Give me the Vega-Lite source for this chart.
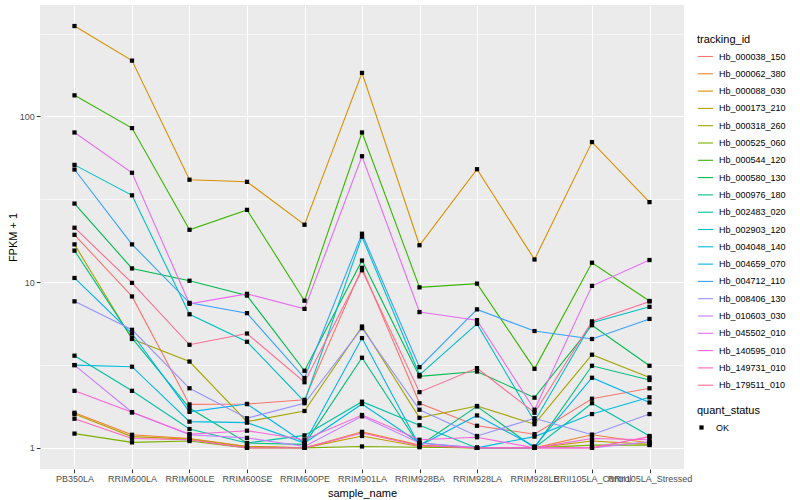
{
"$schema": "https://vega.github.io/schema/vega-lite/v6.json",
"width": 644, "height": 464,
"autosize": {"type": "none"},
"padding": {"left": 40, "top": 5, "right": 116, "bottom": 31},
"background": "#FFFFFF",
"config": {
 "font": "Liberation Sans",
 "view": {"fill": "#EBEBEB", "stroke": null},
 "axis": {"domain": false, "gridColor": "#FFFFFF", "tickColor": "#333333", "labelColor": "#4D4D4D", "labelFontSize": 9, "titleFontSize": 11, "titleFontWeight": "normal", "titleColor": "#000000", "tickSize": 3.7, "tickWidth": 1},
 "legend": {"titleFontSize": 11, "titleFontWeight": "normal", "titleColor": "#000000", "labelFontSize": 9, "labelColor": "#000000", "padding": 0}
},
"data": {"values": [
{"tracking_id":"Hb_000038_150","sample_name":"PB350LA","fpkm":19.3,"quant_status":"OK"},
{"tracking_id":"Hb_000038_150","sample_name":"RRIM600LA","fpkm":8.2,"quant_status":"OK"},
{"tracking_id":"Hb_000038_150","sample_name":"RRIM600LE","fpkm":1.83,"quant_status":"OK"},
{"tracking_id":"Hb_000038_150","sample_name":"RRIM600SE","fpkm":1.84,"quant_status":"OK"},
{"tracking_id":"Hb_000038_150","sample_name":"RRIM600PE","fpkm":1.95,"quant_status":"OK"},
{"tracking_id":"Hb_000038_150","sample_name":"RRIM901LA","fpkm":12.2,"quant_status":"OK"},
{"tracking_id":"Hb_000038_150","sample_name":"RRIM928BA","fpkm":1.86,"quant_status":"OK"},
{"tracking_id":"Hb_000038_150","sample_name":"RRIM928LA","fpkm":1.36,"quant_status":"OK"},
{"tracking_id":"Hb_000038_150","sample_name":"RRIM928LE","fpkm":1.21,"quant_status":"OK"},
{"tracking_id":"Hb_000038_150","sample_name":"RRII105LA_Control","fpkm":1.98,"quant_status":"OK"},
{"tracking_id":"Hb_000038_150","sample_name":"RRII105LA_Stressed","fpkm":2.29,"quant_status":"OK"},
{"tracking_id":"Hb_000062_380","sample_name":"PB350LA","fpkm":1.63,"quant_status":"OK"},
{"tracking_id":"Hb_000062_380","sample_name":"RRIM600LA","fpkm":1.2,"quant_status":"OK"},
{"tracking_id":"Hb_000062_380","sample_name":"RRIM600LE","fpkm":1.14,"quant_status":"OK"},
{"tracking_id":"Hb_000062_380","sample_name":"RRIM600SE","fpkm":1.02,"quant_status":"OK"},
{"tracking_id":"Hb_000062_380","sample_name":"RRIM600PE","fpkm":1.0,"quant_status":"OK"},
{"tracking_id":"Hb_000062_380","sample_name":"RRIM901LA","fpkm":1.25,"quant_status":"OK"},
{"tracking_id":"Hb_000062_380","sample_name":"RRIM928BA","fpkm":1.04,"quant_status":"OK"},
{"tracking_id":"Hb_000062_380","sample_name":"RRIM928LA","fpkm":1.0,"quant_status":"OK"},
{"tracking_id":"Hb_000062_380","sample_name":"RRIM928LE","fpkm":1.0,"quant_status":"OK"},
{"tracking_id":"Hb_000062_380","sample_name":"RRII105LA_Control","fpkm":1.2,"quant_status":"OK"},
{"tracking_id":"Hb_000062_380","sample_name":"RRII105LA_Stressed","fpkm":1.07,"quant_status":"OK"},
{"tracking_id":"Hb_000088_030","sample_name":"PB350LA","fpkm":351,"quant_status":"OK"},
{"tracking_id":"Hb_000088_030","sample_name":"RRIM600LA","fpkm":217,"quant_status":"OK"},
{"tracking_id":"Hb_000088_030","sample_name":"RRIM600LE","fpkm":41.5,"quant_status":"OK"},
{"tracking_id":"Hb_000088_030","sample_name":"RRIM600SE","fpkm":40.3,"quant_status":"OK"},
{"tracking_id":"Hb_000088_030","sample_name":"RRIM600PE","fpkm":22.2,"quant_status":"OK"},
{"tracking_id":"Hb_000088_030","sample_name":"RRIM901LA","fpkm":183,"quant_status":"OK"},
{"tracking_id":"Hb_000088_030","sample_name":"RRIM928BA","fpkm":16.7,"quant_status":"OK"},
{"tracking_id":"Hb_000088_030","sample_name":"RRIM928LA","fpkm":48,"quant_status":"OK"},
{"tracking_id":"Hb_000088_030","sample_name":"RRIM928LE","fpkm":13.7,"quant_status":"OK"},
{"tracking_id":"Hb_000088_030","sample_name":"RRII105LA_Control","fpkm":70,"quant_status":"OK"},
{"tracking_id":"Hb_000088_030","sample_name":"RRII105LA_Stressed","fpkm":30.4,"quant_status":"OK"},
{"tracking_id":"Hb_000173_210","sample_name":"PB350LA","fpkm":1.6,"quant_status":"OK"},
{"tracking_id":"Hb_000173_210","sample_name":"RRIM600LA","fpkm":1.17,"quant_status":"OK"},
{"tracking_id":"Hb_000173_210","sample_name":"RRIM600LE","fpkm":1.13,"quant_status":"OK"},
{"tracking_id":"Hb_000173_210","sample_name":"RRIM600SE","fpkm":1.02,"quant_status":"OK"},
{"tracking_id":"Hb_000173_210","sample_name":"RRIM600PE","fpkm":1.0,"quant_status":"OK"},
{"tracking_id":"Hb_000173_210","sample_name":"RRIM901LA","fpkm":1.18,"quant_status":"OK"},
{"tracking_id":"Hb_000173_210","sample_name":"RRIM928BA","fpkm":1.02,"quant_status":"OK"},
{"tracking_id":"Hb_000173_210","sample_name":"RRIM928LA","fpkm":1.0,"quant_status":"OK"},
{"tracking_id":"Hb_000173_210","sample_name":"RRIM928LE","fpkm":1.0,"quant_status":"OK"},
{"tracking_id":"Hb_000173_210","sample_name":"RRII105LA_Control","fpkm":1.1,"quant_status":"OK"},
{"tracking_id":"Hb_000173_210","sample_name":"RRII105LA_Stressed","fpkm":1.05,"quant_status":"OK"},
{"tracking_id":"Hb_000318_260","sample_name":"PB350LA","fpkm":16.9,"quant_status":"OK"},
{"tracking_id":"Hb_000318_260","sample_name":"RRIM600LA","fpkm":4.54,"quant_status":"OK"},
{"tracking_id":"Hb_000318_260","sample_name":"RRIM600LE","fpkm":3.32,"quant_status":"OK"},
{"tracking_id":"Hb_000318_260","sample_name":"RRIM600SE","fpkm":1.44,"quant_status":"OK"},
{"tracking_id":"Hb_000318_260","sample_name":"RRIM600PE","fpkm":1.67,"quant_status":"OK"},
{"tracking_id":"Hb_000318_260","sample_name":"RRIM901LA","fpkm":5.4,"quant_status":"OK"},
{"tracking_id":"Hb_000318_260","sample_name":"RRIM928BA","fpkm":1.52,"quant_status":"OK"},
{"tracking_id":"Hb_000318_260","sample_name":"RRIM928LA","fpkm":1.79,"quant_status":"OK"},
{"tracking_id":"Hb_000318_260","sample_name":"RRIM928LE","fpkm":1.39,"quant_status":"OK"},
{"tracking_id":"Hb_000318_260","sample_name":"RRII105LA_Control","fpkm":3.65,"quant_status":"OK"},
{"tracking_id":"Hb_000318_260","sample_name":"RRII105LA_Stressed","fpkm":2.66,"quant_status":"OK"},
{"tracking_id":"Hb_000525_060","sample_name":"PB350LA","fpkm":1.22,"quant_status":"OK"},
{"tracking_id":"Hb_000525_060","sample_name":"RRIM600LA","fpkm":1.08,"quant_status":"OK"},
{"tracking_id":"Hb_000525_060","sample_name":"RRIM600LE","fpkm":1.1,"quant_status":"OK"},
{"tracking_id":"Hb_000525_060","sample_name":"RRIM600SE","fpkm":1.0,"quant_status":"OK"},
{"tracking_id":"Hb_000525_060","sample_name":"RRIM600PE","fpkm":1.0,"quant_status":"OK"},
{"tracking_id":"Hb_000525_060","sample_name":"RRIM901LA","fpkm":1.02,"quant_status":"OK"},
{"tracking_id":"Hb_000525_060","sample_name":"RRIM928BA","fpkm":1.01,"quant_status":"OK"},
{"tracking_id":"Hb_000525_060","sample_name":"RRIM928LA","fpkm":1.0,"quant_status":"OK"},
{"tracking_id":"Hb_000525_060","sample_name":"RRIM928LE","fpkm":1.0,"quant_status":"OK"},
{"tracking_id":"Hb_000525_060","sample_name":"RRII105LA_Control","fpkm":1.04,"quant_status":"OK"},
{"tracking_id":"Hb_000525_060","sample_name":"RRII105LA_Stressed","fpkm":1.04,"quant_status":"OK"},
{"tracking_id":"Hb_000544_120","sample_name":"PB350LA","fpkm":134,"quant_status":"OK"},
{"tracking_id":"Hb_000544_120","sample_name":"RRIM600LA","fpkm":85,"quant_status":"OK"},
{"tracking_id":"Hb_000544_120","sample_name":"RRIM600LE","fpkm":20.7,"quant_status":"OK"},
{"tracking_id":"Hb_000544_120","sample_name":"RRIM600SE","fpkm":27.3,"quant_status":"OK"},
{"tracking_id":"Hb_000544_120","sample_name":"RRIM600PE","fpkm":7.73,"quant_status":"OK"},
{"tracking_id":"Hb_000544_120","sample_name":"RRIM901LA","fpkm":80,"quant_status":"OK"},
{"tracking_id":"Hb_000544_120","sample_name":"RRIM928BA","fpkm":9.3,"quant_status":"OK"},
{"tracking_id":"Hb_000544_120","sample_name":"RRIM928LA","fpkm":9.8,"quant_status":"OK"},
{"tracking_id":"Hb_000544_120","sample_name":"RRIM928LE","fpkm":3.0,"quant_status":"OK"},
{"tracking_id":"Hb_000544_120","sample_name":"RRII105LA_Control","fpkm":13.1,"quant_status":"OK"},
{"tracking_id":"Hb_000544_120","sample_name":"RRII105LA_Stressed","fpkm":7.7,"quant_status":"OK"},
{"tracking_id":"Hb_000580_130","sample_name":"PB350LA","fpkm":29.8,"quant_status":"OK"},
{"tracking_id":"Hb_000580_130","sample_name":"RRIM600LA","fpkm":12.1,"quant_status":"OK"},
{"tracking_id":"Hb_000580_130","sample_name":"RRIM600LE","fpkm":10.2,"quant_status":"OK"},
{"tracking_id":"Hb_000580_130","sample_name":"RRIM600SE","fpkm":8.3,"quant_status":"OK"},
{"tracking_id":"Hb_000580_130","sample_name":"RRIM600PE","fpkm":2.92,"quant_status":"OK"},
{"tracking_id":"Hb_000580_130","sample_name":"RRIM901LA","fpkm":13.5,"quant_status":"OK"},
{"tracking_id":"Hb_000580_130","sample_name":"RRIM928BA","fpkm":2.7,"quant_status":"OK"},
{"tracking_id":"Hb_000580_130","sample_name":"RRIM928LA","fpkm":2.89,"quant_status":"OK"},
{"tracking_id":"Hb_000580_130","sample_name":"RRIM928LE","fpkm":2.01,"quant_status":"OK"},
{"tracking_id":"Hb_000580_130","sample_name":"RRII105LA_Control","fpkm":5.5,"quant_status":"OK"},
{"tracking_id":"Hb_000580_130","sample_name":"RRII105LA_Stressed","fpkm":3.13,"quant_status":"OK"},
{"tracking_id":"Hb_000976_180","sample_name":"PB350LA","fpkm":15.5,"quant_status":"OK"},
{"tracking_id":"Hb_000976_180","sample_name":"RRIM600LA","fpkm":4.6,"quant_status":"OK"},
{"tracking_id":"Hb_000976_180","sample_name":"RRIM600LE","fpkm":1.74,"quant_status":"OK"},
{"tracking_id":"Hb_000976_180","sample_name":"RRIM600SE","fpkm":1.07,"quant_status":"OK"},
{"tracking_id":"Hb_000976_180","sample_name":"RRIM600PE","fpkm":1.05,"quant_status":"OK"},
{"tracking_id":"Hb_000976_180","sample_name":"RRIM901LA","fpkm":3.5,"quant_status":"OK"},
{"tracking_id":"Hb_000976_180","sample_name":"RRIM928BA","fpkm":1.03,"quant_status":"OK"},
{"tracking_id":"Hb_000976_180","sample_name":"RRIM928LA","fpkm":1.78,"quant_status":"OK"},
{"tracking_id":"Hb_000976_180","sample_name":"RRIM928LE","fpkm":1.0,"quant_status":"OK"},
{"tracking_id":"Hb_000976_180","sample_name":"RRII105LA_Control","fpkm":3.13,"quant_status":"OK"},
{"tracking_id":"Hb_000976_180","sample_name":"RRII105LA_Stressed","fpkm":2.57,"quant_status":"OK"},
{"tracking_id":"Hb_002483_020","sample_name":"PB350LA","fpkm":3.6,"quant_status":"OK"},
{"tracking_id":"Hb_002483_020","sample_name":"RRIM600LA","fpkm":2.21,"quant_status":"OK"},
{"tracking_id":"Hb_002483_020","sample_name":"RRIM600LE","fpkm":1.3,"quant_status":"OK"},
{"tracking_id":"Hb_002483_020","sample_name":"RRIM600SE","fpkm":1.07,"quant_status":"OK"},
{"tracking_id":"Hb_002483_020","sample_name":"RRIM600PE","fpkm":1.19,"quant_status":"OK"},
{"tracking_id":"Hb_002483_020","sample_name":"RRIM901LA","fpkm":1.9,"quant_status":"OK"},
{"tracking_id":"Hb_002483_020","sample_name":"RRIM928BA","fpkm":1.37,"quant_status":"OK"},
{"tracking_id":"Hb_002483_020","sample_name":"RRIM928LA","fpkm":1.0,"quant_status":"OK"},
{"tracking_id":"Hb_002483_020","sample_name":"RRIM928LE","fpkm":1.0,"quant_status":"OK"},
{"tracking_id":"Hb_002483_020","sample_name":"RRII105LA_Control","fpkm":1.86,"quant_status":"OK"},
{"tracking_id":"Hb_002483_020","sample_name":"RRII105LA_Stressed","fpkm":1.18,"quant_status":"OK"},
{"tracking_id":"Hb_002903_120","sample_name":"PB350LA","fpkm":51,"quant_status":"OK"},
{"tracking_id":"Hb_002903_120","sample_name":"RRIM600LA","fpkm":33.4,"quant_status":"OK"},
{"tracking_id":"Hb_002903_120","sample_name":"RRIM600LE","fpkm":6.4,"quant_status":"OK"},
{"tracking_id":"Hb_002903_120","sample_name":"RRIM600SE","fpkm":4.37,"quant_status":"OK"},
{"tracking_id":"Hb_002903_120","sample_name":"RRIM600PE","fpkm":1.9,"quant_status":"OK"},
{"tracking_id":"Hb_002903_120","sample_name":"RRIM901LA","fpkm":18.8,"quant_status":"OK"},
{"tracking_id":"Hb_002903_120","sample_name":"RRIM928BA","fpkm":2.76,"quant_status":"OK"},
{"tracking_id":"Hb_002903_120","sample_name":"RRIM928LA","fpkm":5.6,"quant_status":"OK"},
{"tracking_id":"Hb_002903_120","sample_name":"RRIM928LE","fpkm":1.45,"quant_status":"OK"},
{"tracking_id":"Hb_002903_120","sample_name":"RRII105LA_Control","fpkm":5.7,"quant_status":"OK"},
{"tracking_id":"Hb_002903_120","sample_name":"RRII105LA_Stressed","fpkm":7.1,"quant_status":"OK"},
{"tracking_id":"Hb_004048_140","sample_name":"PB350LA","fpkm":3.16,"quant_status":"OK"},
{"tracking_id":"Hb_004048_140","sample_name":"RRIM600LA","fpkm":3.09,"quant_status":"OK"},
{"tracking_id":"Hb_004048_140","sample_name":"RRIM600LE","fpkm":1.44,"quant_status":"OK"},
{"tracking_id":"Hb_004048_140","sample_name":"RRIM600SE","fpkm":1.42,"quant_status":"OK"},
{"tracking_id":"Hb_004048_140","sample_name":"RRIM600PE","fpkm":1.07,"quant_status":"OK"},
{"tracking_id":"Hb_004048_140","sample_name":"RRIM901LA","fpkm":1.84,"quant_status":"OK"},
{"tracking_id":"Hb_004048_140","sample_name":"RRIM928BA","fpkm":1.07,"quant_status":"OK"},
{"tracking_id":"Hb_004048_140","sample_name":"RRIM928LA","fpkm":1.0,"quant_status":"OK"},
{"tracking_id":"Hb_004048_140","sample_name":"RRIM928LE","fpkm":1.17,"quant_status":"OK"},
{"tracking_id":"Hb_004048_140","sample_name":"RRII105LA_Control","fpkm":1.6,"quant_status":"OK"},
{"tracking_id":"Hb_004048_140","sample_name":"RRII105LA_Stressed","fpkm":2.02,"quant_status":"OK"},
{"tracking_id":"Hb_004659_070","sample_name":"PB350LA","fpkm":10.6,"quant_status":"OK"},
{"tracking_id":"Hb_004659_070","sample_name":"RRIM600LA","fpkm":4.9,"quant_status":"OK"},
{"tracking_id":"Hb_004659_070","sample_name":"RRIM600LE","fpkm":1.65,"quant_status":"OK"},
{"tracking_id":"Hb_004659_070","sample_name":"RRIM600SE","fpkm":1.84,"quant_status":"OK"},
{"tracking_id":"Hb_004659_070","sample_name":"RRIM600PE","fpkm":1.07,"quant_status":"OK"},
{"tracking_id":"Hb_004659_070","sample_name":"RRIM901LA","fpkm":4.6,"quant_status":"OK"},
{"tracking_id":"Hb_004659_070","sample_name":"RRIM928BA","fpkm":1.03,"quant_status":"OK"},
{"tracking_id":"Hb_004659_070","sample_name":"RRIM928LA","fpkm":1.57,"quant_status":"OK"},
{"tracking_id":"Hb_004659_070","sample_name":"RRIM928LE","fpkm":1.02,"quant_status":"OK"},
{"tracking_id":"Hb_004659_070","sample_name":"RRII105LA_Control","fpkm":2.65,"quant_status":"OK"},
{"tracking_id":"Hb_004659_070","sample_name":"RRII105LA_Stressed","fpkm":1.88,"quant_status":"OK"},
{"tracking_id":"Hb_004712_110","sample_name":"PB350LA","fpkm":47.8,"quant_status":"OK"},
{"tracking_id":"Hb_004712_110","sample_name":"RRIM600LA","fpkm":16.9,"quant_status":"OK"},
{"tracking_id":"Hb_004712_110","sample_name":"RRIM600LE","fpkm":7.5,"quant_status":"OK"},
{"tracking_id":"Hb_004712_110","sample_name":"RRIM600SE","fpkm":6.5,"quant_status":"OK"},
{"tracking_id":"Hb_004712_110","sample_name":"RRIM600PE","fpkm":2.64,"quant_status":"OK"},
{"tracking_id":"Hb_004712_110","sample_name":"RRIM901LA","fpkm":19.6,"quant_status":"OK"},
{"tracking_id":"Hb_004712_110","sample_name":"RRIM928BA","fpkm":3.07,"quant_status":"OK"},
{"tracking_id":"Hb_004712_110","sample_name":"RRIM928LA","fpkm":6.85,"quant_status":"OK"},
{"tracking_id":"Hb_004712_110","sample_name":"RRIM928LE","fpkm":5.07,"quant_status":"OK"},
{"tracking_id":"Hb_004712_110","sample_name":"RRII105LA_Control","fpkm":4.54,"quant_status":"OK"},
{"tracking_id":"Hb_004712_110","sample_name":"RRII105LA_Stressed","fpkm":6.0,"quant_status":"OK"},
{"tracking_id":"Hb_008406_130","sample_name":"PB350LA","fpkm":7.66,"quant_status":"OK"},
{"tracking_id":"Hb_008406_130","sample_name":"RRIM600LA","fpkm":5.16,"quant_status":"OK"},
{"tracking_id":"Hb_008406_130","sample_name":"RRIM600LE","fpkm":2.29,"quant_status":"OK"},
{"tracking_id":"Hb_008406_130","sample_name":"RRIM600SE","fpkm":1.51,"quant_status":"OK"},
{"tracking_id":"Hb_008406_130","sample_name":"RRIM600PE","fpkm":1.86,"quant_status":"OK"},
{"tracking_id":"Hb_008406_130","sample_name":"RRIM901LA","fpkm":5.28,"quant_status":"OK"},
{"tracking_id":"Hb_008406_130","sample_name":"RRIM928BA","fpkm":1.7,"quant_status":"OK"},
{"tracking_id":"Hb_008406_130","sample_name":"RRIM928LA","fpkm":1.18,"quant_status":"OK"},
{"tracking_id":"Hb_008406_130","sample_name":"RRIM928LE","fpkm":1.51,"quant_status":"OK"},
{"tracking_id":"Hb_008406_130","sample_name":"RRII105LA_Control","fpkm":1.2,"quant_status":"OK"},
{"tracking_id":"Hb_008406_130","sample_name":"RRII105LA_Stressed","fpkm":1.6,"quant_status":"OK"},
{"tracking_id":"Hb_010603_030","sample_name":"PB350LA","fpkm":3.16,"quant_status":"OK"},
{"tracking_id":"Hb_010603_030","sample_name":"RRIM600LA","fpkm":1.64,"quant_status":"OK"},
{"tracking_id":"Hb_010603_030","sample_name":"RRIM600LE","fpkm":1.2,"quant_status":"OK"},
{"tracking_id":"Hb_010603_030","sample_name":"RRIM600SE","fpkm":1.15,"quant_status":"OK"},
{"tracking_id":"Hb_010603_030","sample_name":"RRIM600PE","fpkm":1.02,"quant_status":"OK"},
{"tracking_id":"Hb_010603_030","sample_name":"RRIM901LA","fpkm":1.55,"quant_status":"OK"},
{"tracking_id":"Hb_010603_030","sample_name":"RRIM928BA","fpkm":1.07,"quant_status":"OK"},
{"tracking_id":"Hb_010603_030","sample_name":"RRIM928LA","fpkm":1.0,"quant_status":"OK"},
{"tracking_id":"Hb_010603_030","sample_name":"RRIM928LE","fpkm":1.0,"quant_status":"OK"},
{"tracking_id":"Hb_010603_030","sample_name":"RRII105LA_Control","fpkm":1.0,"quant_status":"OK"},
{"tracking_id":"Hb_010603_030","sample_name":"RRII105LA_Stressed","fpkm":1.09,"quant_status":"OK"},
{"tracking_id":"Hb_045502_010","sample_name":"PB350LA","fpkm":80,"quant_status":"OK"},
{"tracking_id":"Hb_045502_010","sample_name":"RRIM600LA","fpkm":45.7,"quant_status":"OK"},
{"tracking_id":"Hb_045502_010","sample_name":"RRIM600LE","fpkm":7.4,"quant_status":"OK"},
{"tracking_id":"Hb_045502_010","sample_name":"RRIM600SE","fpkm":8.5,"quant_status":"OK"},
{"tracking_id":"Hb_045502_010","sample_name":"RRIM600PE","fpkm":6.9,"quant_status":"OK"},
{"tracking_id":"Hb_045502_010","sample_name":"RRIM901LA","fpkm":57.5,"quant_status":"OK"},
{"tracking_id":"Hb_045502_010","sample_name":"RRIM928BA","fpkm":6.6,"quant_status":"OK"},
{"tracking_id":"Hb_045502_010","sample_name":"RRIM928LA","fpkm":5.9,"quant_status":"OK"},
{"tracking_id":"Hb_045502_010","sample_name":"RRIM928LE","fpkm":1.7,"quant_status":"OK"},
{"tracking_id":"Hb_045502_010","sample_name":"RRII105LA_Control","fpkm":9.5,"quant_status":"OK"},
{"tracking_id":"Hb_045502_010","sample_name":"RRII105LA_Stressed","fpkm":13.6,"quant_status":"OK"},
{"tracking_id":"Hb_140595_010","sample_name":"PB350LA","fpkm":2.21,"quant_status":"OK"},
{"tracking_id":"Hb_140595_010","sample_name":"RRIM600LA","fpkm":1.64,"quant_status":"OK"},
{"tracking_id":"Hb_140595_010","sample_name":"RRIM600LE","fpkm":1.21,"quant_status":"OK"},
{"tracking_id":"Hb_140595_010","sample_name":"RRIM600SE","fpkm":1.27,"quant_status":"OK"},
{"tracking_id":"Hb_140595_010","sample_name":"RRIM600PE","fpkm":1.12,"quant_status":"OK"},
{"tracking_id":"Hb_140595_010","sample_name":"RRIM901LA","fpkm":1.58,"quant_status":"OK"},
{"tracking_id":"Hb_140595_010","sample_name":"RRIM928BA","fpkm":1.12,"quant_status":"OK"},
{"tracking_id":"Hb_140595_010","sample_name":"RRIM928LA","fpkm":1.16,"quant_status":"OK"},
{"tracking_id":"Hb_140595_010","sample_name":"RRIM928LE","fpkm":1.0,"quant_status":"OK"},
{"tracking_id":"Hb_140595_010","sample_name":"RRII105LA_Control","fpkm":1.14,"quant_status":"OK"},
{"tracking_id":"Hb_140595_010","sample_name":"RRII105LA_Stressed","fpkm":1.12,"quant_status":"OK"},
{"tracking_id":"Hb_149731_010","sample_name":"PB350LA","fpkm":1.5,"quant_status":"OK"},
{"tracking_id":"Hb_149731_010","sample_name":"RRIM600LA","fpkm":1.14,"quant_status":"OK"},
{"tracking_id":"Hb_149731_010","sample_name":"RRIM600LE","fpkm":1.12,"quant_status":"OK"},
{"tracking_id":"Hb_149731_010","sample_name":"RRIM600SE","fpkm":1.0,"quant_status":"OK"},
{"tracking_id":"Hb_149731_010","sample_name":"RRIM600PE","fpkm":1.0,"quant_status":"OK"},
{"tracking_id":"Hb_149731_010","sample_name":"RRIM901LA","fpkm":1.23,"quant_status":"OK"},
{"tracking_id":"Hb_149731_010","sample_name":"RRIM928BA","fpkm":1.03,"quant_status":"OK"},
{"tracking_id":"Hb_149731_010","sample_name":"RRIM928LA","fpkm":1.0,"quant_status":"OK"},
{"tracking_id":"Hb_149731_010","sample_name":"RRIM928LE","fpkm":1.0,"quant_status":"OK"},
{"tracking_id":"Hb_149731_010","sample_name":"RRII105LA_Control","fpkm":1.0,"quant_status":"OK"},
{"tracking_id":"Hb_149731_010","sample_name":"RRII105LA_Stressed","fpkm":1.17,"quant_status":"OK"},
{"tracking_id":"Hb_179511_010","sample_name":"PB350LA","fpkm":21.3,"quant_status":"OK"},
{"tracking_id":"Hb_179511_010","sample_name":"RRIM600LA","fpkm":9.9,"quant_status":"OK"},
{"tracking_id":"Hb_179511_010","sample_name":"RRIM600LE","fpkm":4.19,"quant_status":"OK"},
{"tracking_id":"Hb_179511_010","sample_name":"RRIM600SE","fpkm":4.9,"quant_status":"OK"},
{"tracking_id":"Hb_179511_010","sample_name":"RRIM600PE","fpkm":2.49,"quant_status":"OK"},
{"tracking_id":"Hb_179511_010","sample_name":"RRIM901LA","fpkm":11.8,"quant_status":"OK"},
{"tracking_id":"Hb_179511_010","sample_name":"RRIM928BA","fpkm":2.17,"quant_status":"OK"},
{"tracking_id":"Hb_179511_010","sample_name":"RRIM928LA","fpkm":3.03,"quant_status":"OK"},
{"tracking_id":"Hb_179511_010","sample_name":"RRIM928LE","fpkm":1.63,"quant_status":"OK"},
{"tracking_id":"Hb_179511_010","sample_name":"RRII105LA_Control","fpkm":5.8,"quant_status":"OK"},
{"tracking_id":"Hb_179511_010","sample_name":"RRII105LA_Stressed","fpkm":7.65,"quant_status":"OK"}
]},
"encoding": {
 "x": {"field": "sample_name", "type": "ordinal", "sort": ["PB350LA","RRIM600LA","RRIM600LE","RRIM600SE","RRIM600PE","RRIM901LA","RRIM928BA","RRIM928LA","RRIM928LE","RRII105LA_Control","RRII105LA_Stressed"],
  "scale": {"type": "point", "padding": 0.6},
  "axis": {"title": "sample_name", "labelAngle": 0, "labelOverlap": false, "labelFlush": false, "grid": true, "gridWidth": 1.1, "labelPadding": 2, "titlePadding": 4}},
 "y": {"field": "fpkm", "type": "quantitative",
  "scale": {"type": "log", "domain": [0.746, 470], "nice": false, "zero": false},
  "axis": {"title": "FPKM + 1", "values": [1, 3.1623, 10, 31.623, 100, 316.23],
   "labelExpr": "(datum.value == 1 || datum.value == 10 || datum.value == 100) ? datum.label : ''",
   "gridWidth": {"condition": {"test": "datum.value == 1 || datum.value == 10 || datum.value == 100", "value": 1.1}, "value": 0.55},
   "tickOpacity": {"condition": {"test": "datum.value == 1 || datum.value == 10 || datum.value == 100", "value": 1}, "value": 0},
   "labelPadding": 2, "titlePadding": 1}}
},
"layer": [
 {
  "mark": {"type": "line", "strokeWidth": 1.1},
  "encoding": {
   "color": {"field": "tracking_id", "type": "nominal",
    "scale": {"domain": ["Hb_000038_150","Hb_000062_380","Hb_000088_030","Hb_000173_210","Hb_000318_260","Hb_000525_060","Hb_000544_120","Hb_000580_130","Hb_000976_180","Hb_002483_020","Hb_002903_120","Hb_004048_140","Hb_004659_070","Hb_004712_110","Hb_008406_130","Hb_010603_030","Hb_045502_010","Hb_140595_010","Hb_149731_010","Hb_179511_010"],
     "range": ["#F8766D","#EA8331","#D89000","#C09B00","#A3A500","#7CAE00","#39B600","#00BB4E","#00BF7D","#00C1A3","#00BFC4","#00BAE0","#00B0F6","#35A2FF","#9590FF","#C77CFF","#E76BF3","#FA62DB","#FF62BC","#FF6C91"]},
    "legend": {"title": "tracking_id", "orient": "none", "legendX": 657, "legendY": 29, "symbolType": "stroke", "symbolSize": 225, "symbolStrokeWidth": 1.1, "rowPadding": 3.3, "titlePadding": 3, "labelOffset": 5}}
  }
 },
 {
  "mark": {"type": "point", "filled": true, "color": "#000000", "size": 18, "opacity": 1},
  "encoding": {
   "shape": {"field": "quant_status", "type": "nominal", "scale": {"range": ["square"]},
    "legend": {"title": "quant_status", "orient": "none", "legendX": 657, "legendY": 400, "symbolFillColor": "#000000", "symbolStrokeColor": "#000000", "symbolSize": 18, "titlePadding": 7, "labelOffset": 10}}
  }
 }
]
}
